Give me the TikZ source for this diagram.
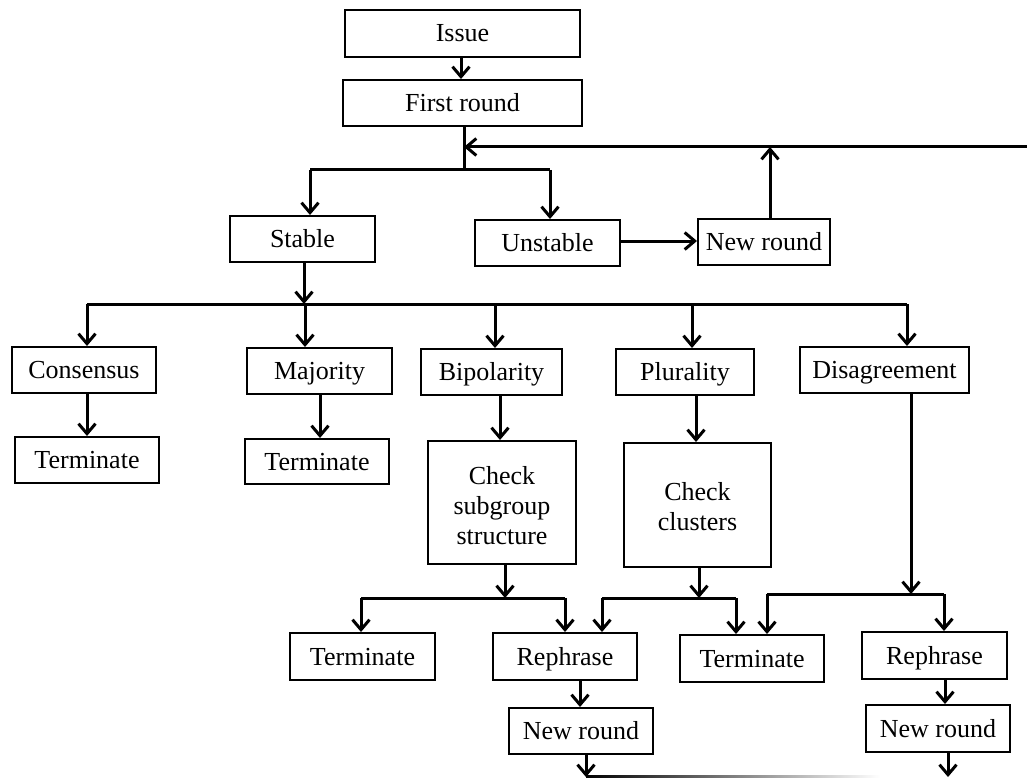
\documentclass[tikz,border=0pt]{standalone}
\usepackage{fontspec}
\setmainfont{Liberation Serif}
\usetikzlibrary{arrows.meta}
\begin{document}
\begin{tikzpicture}[x=1pt,y=-1pt,
  mbox/.style={draw=black,line width=2pt,inner sep=0pt,align=center,
    font=\fontsize{26}{30}\selectfont,fill=white},
  box/.style={mbox,text height=20pt,text depth=3pt},
  conn/.style={line width=3pt},
  arr/.style={line width=3pt,-{Straight Barb[length=10pt,width=17pt,line width=3pt]}}]
\useasboundingbox (0,0) rectangle (1027,778);
% nodes
\node[box,minimum width=235pt,minimum height=47pt] (issue) at (462.5,33.5) {Issue};
\node[box,minimum width=239pt,minimum height=46pt] (first) at (462.5,103) {First round};
\node[box,minimum width=145pt,minimum height=46pt] (stable) at (302.5,239) {Stable};
\node[box,minimum width=145pt,minimum height=46pt] (unstable) at (547.5,243) {Unstable};
\node[box,minimum width=132pt,minimum height=46pt] (newtop) at (764,242) {New round};
\node[box,minimum width=144pt,minimum height=46pt] (cons) at (84,370) {Consensus};
\node[box,minimum width=144pt,minimum height=46pt] (term1) at (87,460) {Terminate};
\node[box,minimum width=145pt,minimum height=46pt] (maj) at (319.5,371) {Majority};
\node[box,minimum width=144pt,minimum height=45pt] (term2) at (317,461.5) {Terminate};
\node[box,minimum width=141pt,minimum height=46pt] (bip) at (491.5,372) {Bipolarity};
\node[box,minimum width=138pt,minimum height=46pt] (plur) at (685,372) {Plurality};
\node[box,minimum width=169pt,minimum height=46pt] (dis) at (884.5,370) {Disagreement};
\node[mbox,minimum width=148pt,minimum height=123pt] (csub) at (502,502.5) {\rule{0pt}{24pt}Check\\subgroup\\structure};
\node[mbox,minimum width=147pt,minimum height=124pt] (cclu) at (697.5,505) {\rule{0pt}{22pt}Check\\clusters};
\node[box,minimum width=145pt,minimum height=47pt] (term3) at (362.5,656.5) {Terminate};
\node[box,minimum width=144pt,minimum height=47pt] (reph1) at (565,656.5) {Rephrase};
\node[box,minimum width=144pt,minimum height=47pt] (term4) at (752,658.5) {Terminate};
\node[box,minimum width=145pt,minimum height=47pt] (reph2) at (934.5,655.5) {Rephrase};
\node[box,minimum width=144pt,minimum height=46pt] (new1) at (581,731) {New round};
\node[box,minimum width=144pt,minimum height=47pt] (new2) at (938,728.5) {New round};
% junction coordinates
\coordinate (j1) at (464,170);
\coordinate (j1l) at (310,170);
\coordinate (j1r) at (550,170);
\coordinate (fbR) at (1027,147);
\coordinate (fbN) at (770,147);
\coordinate (j2) at (304,304);
\coordinate (b1) at (87,304);
\coordinate (b2) at (305,304);
\coordinate (b3) at (495,304);
\coordinate (b4) at (692,304);
\coordinate (b5) at (907,304);
\coordinate (s1) at (505,598);
\coordinate (s1l) at (361,598);
\coordinate (s1r) at (565,598);
\coordinate (s2) at (699,598);
\coordinate (s2l) at (602,598);
\coordinate (s2r) at (736,598);
\coordinate (s3) at (911,594);
\coordinate (s3l) at (767,594);
\coordinate (s3r) at (944,594);
\coordinate (e1) at (586,777);
\coordinate (e2) at (948,777);
% connectors
\draw[arr] (issue.south -| 461,0) -- (first.north -| 461,0);
\draw[conn] (first.south -| j1) -- (j1);
\draw[conn] (j1l) -- (j1r);
\draw[arr] (j1l) -- (j1l |- stable.north);
\draw[arr] (j1r) -- (j1r |- unstable.north);
\draw[arr] (fbR) -- (j1 |- fbR);
\draw[arr] (newtop.north -| fbN) -- (fbN);
\draw[arr] (unstable.east |- 0,241) -- (newtop.west |- 0,241);
\draw[arr] (stable.south -| j2) -- (j2);
\draw[conn] (b1) -- (b5);
\draw[arr] (b1) -- (b1 |- cons.north);
\draw[arr] (b2) -- (b2 |- maj.north);
\draw[arr] (b3) -- (b3 |- bip.north);
\draw[arr] (b4) -- (b4 |- plur.north);
\draw[arr] (b5) -- (b5 |- dis.north);
\draw[arr] (cons.south -| 87,0) -- (term1.north -| 87,0);
\draw[arr] (maj.south -| 320,0) -- (term2.north -| 320,0);
\draw[arr] (bip.south -| 500,0) -- (csub.north -| 500,0);
\draw[arr] (plur.south -| 696,0) -- (cclu.north -| 696,0);
\draw[arr] (csub.south -| s1) -- (s1);
\draw[conn] (s1l) -- (s1r);
\draw[arr] (s1l) -- (s1l |- term3.north);
\draw[arr] (s1r) -- (s1r |- reph1.north);
\draw[arr] (cclu.south -| s2) -- (s2);
\draw[conn] (s2l) -- (s2r);
\draw[arr] (s2l) -- (s2l |- reph1.north);
\draw[arr] (s2r) -- (s2r |- term4.north);
\draw[arr] (dis.south -| s3) -- (s3);
\draw[conn] (s3l) -- (s3r);
\draw[arr] (s3l) -- (s3l |- term4.north);
\draw[arr] (s3r) -- (s3r |- reph2.north);
\draw[arr] (reph1.south -| 580,0) -- (new1.north -| 580,0);
\draw[arr] (reph2.south -| 945,0) -- (new2.north -| 945,0);
\draw[arr] (new1.south -| e1) -- (e1);
\draw[arr] (new2.south -| e2) -- (e2);
\shade[left color=black,right color=white] (586,775.5) rectangle (880,778);
\end{tikzpicture}
\end{document}
